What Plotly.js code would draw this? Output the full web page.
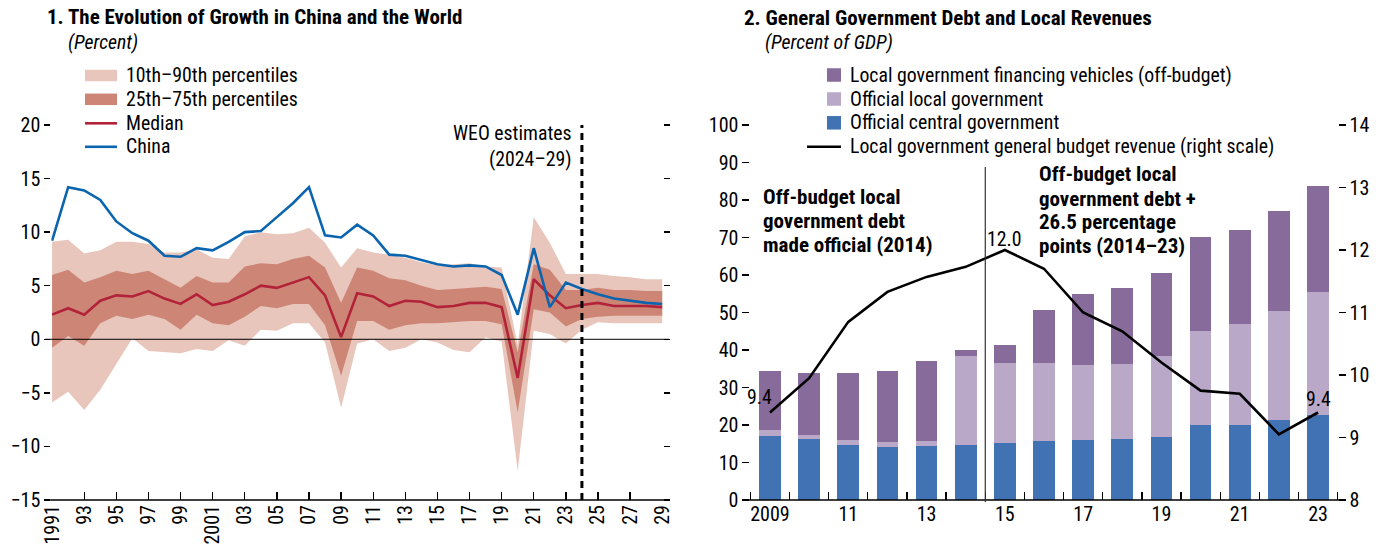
<!DOCTYPE html>
<html>
<head>
<meta charset="utf-8">
<script src="https://cdn.plot.ly/plotly-3.0.1.min.js"></script>
<style>
html,body{margin:0;padding:0;background:#fff;}
#chart{width:1384px;height:552px;}
</style>
</head>
<body>
<div id="chart"></div>
<script>
// ---------- Panel 1 data: growth (percent) ----------
const years1 = [1991,1992,1993,1994,1995,1996,1997,1998,1999,2000,
                2001,2002,2003,2004,2005,2006,2007,2008,2009,2010,
                2011,2012,2013,2014,2015,2016,2017,2018,2019,2020,
                2021,2022,2023,2024,2025,2026,2027,2028,2029];
const china = [9.2,14.2,13.9,13.0,11.0,9.9,9.2,7.8,7.7,8.5,
               8.3,9.1,10.0,10.1,11.4,12.7,14.2,9.7,9.5,10.7,
               9.7,7.9,7.8,7.4,7.0,6.8,6.9,6.8,6.0,2.3,
               8.5,3.0,5.3,4.7,4.2,3.8,3.6,3.4,3.3];
const median = [2.3,2.9,2.3,3.6,4.1,4.0,4.5,3.8,3.3,4.2,
                3.2,3.5,4.2,5.0,4.8,5.3,5.8,4.1,0.2,4.3,
                4.0,3.1,3.6,3.5,3.0,3.1,3.4,3.4,3.0,-3.6,
                5.6,4.1,2.9,3.2,3.4,3.1,3.1,3.1,3.0];
const p75 = [6.0,6.5,5.3,5.8,6.4,6.1,6.4,5.6,4.8,5.9,
             5.3,5.3,6.8,7.1,7.0,7.5,7.8,6.7,3.4,6.7,
             6.4,5.7,5.5,5.0,4.6,4.7,4.8,4.9,4.7,-1.2,
             7.0,6.5,4.6,4.6,4.8,4.6,4.6,4.5,4.5];
const p25 = [-0.8,0.3,-0.6,1.5,2.2,1.9,2.3,1.9,0.9,2.3,
             1.5,1.3,2.1,3.1,2.9,3.3,3.3,1.3,-3.4,1.7,
             1.7,0.9,1.3,1.5,1.5,1.6,1.7,1.7,1.4,-6.8,
             2.8,2.5,1.2,1.9,2.1,2.2,2.2,2.2,2.2];
const p90 = [9.1,9.3,8.0,8.3,9.1,9.1,8.9,8.1,8.1,8.4,
             7.6,7.5,9.6,10.0,9.8,9.9,10.4,9.0,6.7,8.5,
             8.1,7.9,7.6,7.2,6.9,7.0,7.1,6.8,6.7,-0.5,
             11.4,9.0,6.1,6.1,6.1,5.9,5.8,5.6,5.6];
const p10 = [-5.9,-4.9,-6.6,-4.7,-2.3,0.1,-1.1,-1.2,-1.3,-0.9,
             -1.1,-0.1,-0.6,0.9,0.8,1.5,1.5,-0.3,-6.4,-0.4,
             0.0,-1.1,-0.8,0.0,-0.3,-1.0,-1.2,0.2,-0.2,-12.3,
             0.8,0.5,-0.4,0.9,1.6,1.5,1.5,1.5,1.5];
const tickYears1 = [1991,1993,1995,1997,1999,2001,2003,2005,2007,2009,2011,2013,2015,2017,2019,2021,2023,2025,2027,2029];
const tickText1 = ['1991','93','95','97','99','2001','03','05','07','09','11','13','15','17','19','21','23','25','27','29'];
const legendNames1 = ['10th–90th percentiles','25th–75th percentiles','Median','China'];

// ---------- Panel 2 data: debt (percent of GDP) and revenue ----------
const years2 = [2009,2010,2011,2012,2013,2014,2015,2016,2017,2018,2019,2020,2021,2022,2023];
const centralGov = [17.1,16.3,14.7,14.1,14.4,14.7,15.2,15.8,16.0,16.3,16.8,20.0,20.0,21.3,22.7];
const localGov = [1.6,1.0,1.3,1.4,1.4,23.7,21.3,20.7,20.0,20.0,21.6,25.1,27.0,29.1,32.8];
const lgfv = [15.7,16.6,17.9,18.9,21.3,1.6,4.8,14.2,18.9,20.2,22.1,25.0,25.0,26.7,28.2];
const revenue = [9.4,9.95,10.85,11.33,11.57,11.73,12.0,11.7,11.0,10.7,10.2,9.75,9.7,9.05,9.4];
const tickYears2 = [2009,2011,2013,2015,2017,2019,2021,2023];
const tickText2 = ['2009','11','13','15','17','19','21','23'];
const legendNames2 = ['Local government financing vehicles (off-budget)','Official local government','Official central government','Local government general budget revenue (right scale)'];
const note1 = ['Off-budget local','government debt','made official (2014)'];
const note2 = ['Off-budget local','government debt +','26.5 percentage','points (2014–23)'];

const FONT = 'Roboto Condensed, Roboto, sans-serif';
const TXT = 19.8, TICK = 20, BOLD = 21;
const LIGHT = '#e8c6bc';
const DARK = '#cd8676';
const RED = '#b2233a';
const BLUE = '#0b64ae';
const C_CENTRAL = '#4172b3', C_LOCAL = '#b9a8c8', C_LGFV = '#866b9b';

const traces = [
  {x: years1, y: p10, type: 'scatter', mode: 'lines', line: {width: 0, color: LIGHT}, showlegend: false, hoverinfo: 'skip', xaxis: 'x', yaxis: 'y'},
  {x: years1, y: p90, type: 'scatter', mode: 'lines', fill: 'tonexty', fillcolor: LIGHT, line: {width: 0, color: LIGHT}, name: legendNames1[0], showlegend: false, xaxis: 'x', yaxis: 'y'},
  {x: years1, y: p25, type: 'scatter', mode: 'lines', line: {width: 0, color: DARK}, showlegend: false, hoverinfo: 'skip', xaxis: 'x', yaxis: 'y'},
  {x: years1, y: p75, type: 'scatter', mode: 'lines', fill: 'tonexty', fillcolor: DARK, line: {width: 0, color: DARK}, name: legendNames1[1], showlegend: false, xaxis: 'x', yaxis: 'y'},
  {x: years1, y: median, type: 'scatter', mode: 'lines', line: {width: 2.6, color: RED}, name: legendNames1[2], showlegend: false, xaxis: 'x', yaxis: 'y'},
  {x: years1, y: china, type: 'scatter', mode: 'lines', line: {width: 2.6, color: BLUE}, name: legendNames1[3], showlegend: false, xaxis: 'x', yaxis: 'y'},

  {x: years2, y: centralGov, type: 'bar', width: 0.555, marker: {color: C_CENTRAL}, name: legendNames2[2], showlegend: false, xaxis: 'x2', yaxis: 'y2'},
  {x: years2, y: localGov, type: 'bar', width: 0.555, marker: {color: C_LOCAL}, name: legendNames2[1], showlegend: false, xaxis: 'x2', yaxis: 'y2'},
  {x: years2, y: lgfv, type: 'bar', width: 0.555, marker: {color: C_LGFV}, name: legendNames2[0], showlegend: false, xaxis: 'x2', yaxis: 'y2'},
  {x: years2, y: revenue, type: 'scatter', mode: 'lines', line: {width: 2.6, color: '#000'}, name: legendNames2[3], showlegend: false, xaxis: 'x2', yaxis: 'y3'}
];

const W = 1384, H = 552;
const yDom = [1 - 500 / H, 1 - 125 / H];
const px = v => v / W;
const py = v => 1 - v / H;

function txt(x, y, text, opts) {
  return Object.assign({xref: 'paper', yref: 'paper', x: px(x), y: py(y), xanchor: 'left', yanchor: 'middle',
    showarrow: false, text: text, font: {family: FONT, size: TXT, color: '#000'}}, opts || {});
}
function rect(x0, x1, yc, h, color) {
  return {type: 'rect', xref: 'paper', yref: 'paper', x0: px(x0), x1: px(x1), y0: py(yc + h / 2), y1: py(yc - h / 2),
    fillcolor: color, line: {width: 0}};
}
function hline(x0, x1, yc, color, w) {
  return {type: 'line', xref: 'paper', yref: 'paper', x0: px(x0), x1: px(x1), y0: py(yc), y1: py(yc), line: {color: color, width: w}};
}

const leg1Y = [75.5, 99.3, 123.3, 146.8];
const leg2Y = [75, 99, 122.8, 146.7];

const shapes = [
  // zero line and axis base lines
  {type: 'line', xref: 'x domain', yref: 'y', x0: -0.01, x1: 1.0098, y0: 0, y1: 0, line: {color: '#000', width: 1}},
  {type: 'line', xref: 'x domain', yref: 'y domain', x0: -0.002, x1: 1.0098, y0: 0, y1: 0, line: {color: '#000', width: 1.5}},
  {type: 'line', xref: 'x2 domain', yref: 'y2 domain', x0: -0.0126, x1: 1.004, y0: 0, y1: 0, line: {color: '#000', width: 1.5}},
  // WEO projection start
  {type: 'line', xref: 'x', yref: 'y domain', x0: 2024, x1: 2024, y0: 0, y1: 1, line: {color: '#000', width: 3, dash: '7px,5px'}},
  // 2014 break
  {type: 'line', xref: 'x2', yref: 'y2 domain', x0: 2014.5, x1: 2014.5, y0: -0.005, y1: 0.888, line: {color: '#333', width: 1.2}},
  // legend swatches, panel 1
  rect(85, 117, leg1Y[0], 11.5, LIGHT),
  rect(85, 117, leg1Y[1], 11.5, DARK),
  hline(85, 117, leg1Y[2], RED, 2.6),
  hline(85, 117, leg1Y[3], BLUE, 2.6),
  // legend swatches, panel 2
  rect(827, 841, leg2Y[0], 13.5, C_LGFV),
  rect(827, 841, leg2Y[1], 13.5, C_LOCAL),
  rect(827, 841, leg2Y[2], 13.5, C_CENTRAL),
  hline(807, 841, leg2Y[3], '#000', 2.6)
];

const annotations = [
  txt(45, 17, '<b>1. The Evolution of Growth in China and the World</b>', {font: {family: FONT, size: BOLD, color: '#000'}}),
  txt(66, 42, '<i>(Percent)</i>'),
  txt(742, 18, '<b>2. General Government Debt and Local Revenues</b>', {font: {family: FONT, size: BOLD, color: '#000'}}),
  txt(763, 42, '<i>(Percent of GDP)</i>'),
  txt(574, 147, 'WEO estimates<br>(2024–29)', {xanchor: 'right', align: 'right'}),
  {xref: 'x2', yref: 'y3', x: years2[0], y: revenue[0], xanchor: 'center', yanchor: 'middle', yshift: 15, xshift: -10, showarrow: false,
   text: revenue[0].toFixed(1), font: {family: FONT, size: TXT, color: '#000'}},
  {xref: 'x2', yref: 'y3', x: years2[6], y: revenue[6], xanchor: 'center', yanchor: 'middle', yshift: 11, showarrow: false,
   text: revenue[6].toFixed(1), font: {family: FONT, size: TXT, color: '#000'}},
  {xref: 'x2', yref: 'y3', x: years2[14], y: revenue[14], xanchor: 'center', yanchor: 'middle', yshift: 13, showarrow: false,
   text: revenue[14].toFixed(1), font: {family: FONT, size: TXT, color: '#000'}}
];
legendNames1.forEach((n, i) => annotations.push(txt(124, leg1Y[i], n)));
legendNames2.forEach((n, i) => annotations.push(txt(848, leg2Y[i], n)));
const note1Y = [197, 221, 245];
note1.forEach((n, i) => annotations.push(txt(761, note1Y[i], '<b>' + n + '</b>', {font: {family: FONT, size: BOLD, color: '#000'}})));
const note2Y = [174, 198.5, 222.5, 246.5];
note2.forEach((n, i) => annotations.push(txt(1037, note2Y[i], '<b>' + n + '</b>', {font: {family: FONT, size: BOLD, color: '#000'}})));

const layout = {
  width: W, height: H,
  margin: {l: 0, r: 0, t: 0, b: 0},
  paper_bgcolor: '#fff', plot_bgcolor: 'rgba(0,0,0,0)',
  font: {family: FONT, size: TICK, color: '#000'},
  barmode: 'stack',
  showlegend: false,
  xaxis: {
    domain: [px(51.3), px(663)], range: [1990.95, 2029.05],
    tickvals: tickYears1, ticktext: tickText1, tickangle: -90,
    ticks: 'inside', ticklen: 8, tickcolor: '#000', tickwidth: 1.3,
    showline: false, showgrid: false, zeroline: false, fixedrange: true
  },
  yaxis: {
    domain: yDom, range: [-15, 20], dtick: 5,
    ticks: 'outside', ticklen: 6, tickcolor: '#000', tickwidth: 1.3,
    mirror: 'ticks', showline: false,
    showgrid: false, zeroline: false, fixedrange: true
  },
  xaxis2: {
    domain: [px(750.4), px(1337.6)], range: [2008.5, 2023.5], anchor: 'y2',
    tickvals: tickYears2, ticktext: tickText2, ticks: '',
    minor: {tick0: 2008.5, dtick: 1, ticks: 'inside', ticklen: 8, tickcolor: '#000', tickwidth: 1.3},
    showline: false, showgrid: false, zeroline: false, fixedrange: true
  },
  yaxis2: {
    domain: yDom, range: [0, 100], dtick: 10, anchor: 'x2',
    ticks: 'outside', ticklen: 7, tickcolor: '#000', tickwidth: 1.3,
    showline: false, showgrid: false, zeroline: false, fixedrange: true
  },
  yaxis3: {
    domain: yDom, range: [8, 14], dtick: 1, anchor: 'x2', overlaying: 'y2', side: 'right',
    ticks: 'outside', ticklen: 7, tickcolor: '#000', tickwidth: 1.3,
    showline: false, showgrid: false, zeroline: false, fixedrange: true
  },
  shapes: shapes,
  annotations: annotations
};

Plotly.newPlot('chart', traces, layout, {displayModeBar: false, staticPlot: true});
</script>
</body>
</html>
